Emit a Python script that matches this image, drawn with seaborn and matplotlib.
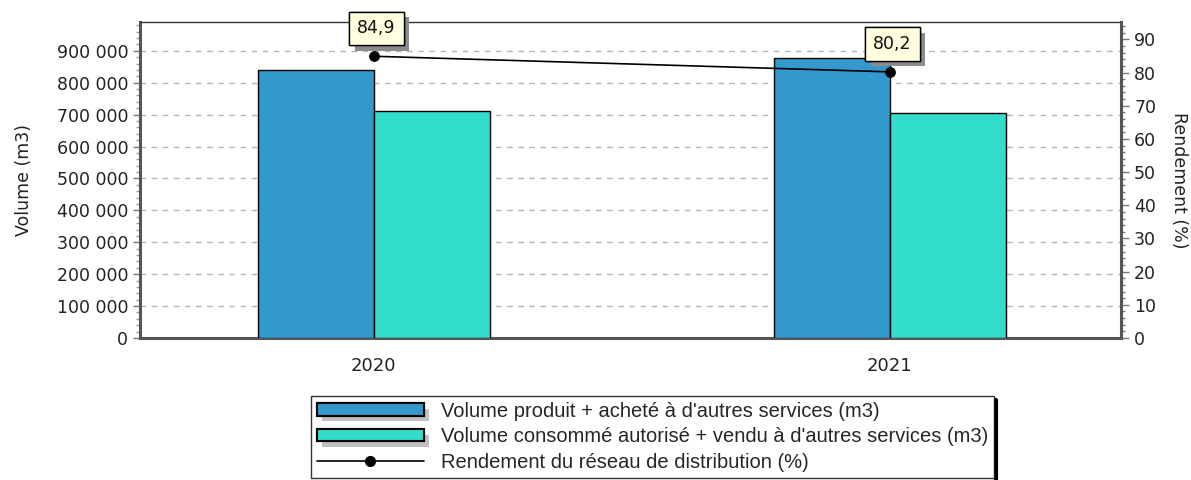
import numpy as np
import pandas as pd
import matplotlib.pyplot as plt
import matplotlib.ticker as mticker
import matplotlib.patheffects as pe
from matplotlib.patches import Patch
from matplotlib.lines import Line2D
import seaborn as sns

years = ["2020", "2021"]
vol_produit = [840000, 879000]
vol_consomme = [712000, 705000]
rendement = [84.9, 80.2]

label_prod = "Volume produit + acheté à d'autres services (m3)"
label_cons = "Volume consommé autorisé + vendu à d'autres services (m3)"
label_rend = "Rendement du réseau de distribution (%)"

col_prod = "#3399cc"
col_cons = "#33ddcc"

sns.set_style("white")
plt.rcParams["font.family"] = ["DejaVu Sans"]

df = pd.DataFrame({
    "annee": years * 2,
    "volume": vol_produit + vol_consomme,
    "serie": [label_prod] * 2 + [label_cons] * 2,
})

fig = plt.figure(figsize=(11.91, 4.8), dpi=100)
ax = fig.add_axes([0.1175, 0.2958, 0.8237, 0.6582])

sns.barplot(
    data=df, x="annee", y="volume", hue="serie",
    palette=[col_prod, col_cons], width=0.45,
    edgecolor="black", linewidth=1, saturation=1,
    ax=ax, legend=False, zorder=3,
)

ax.set_xlim(-0.453, 1.448)
ax.set_ylim(0, 990000)
ax.yaxis.set_major_locator(mticker.MultipleLocator(100000))
ax.yaxis.set_minor_locator(mticker.MultipleLocator(20000))
ax.yaxis.set_major_formatter(mticker.FuncFormatter(lambda v, p: f"{int(v):,}".replace(",", " ")))
ax.xaxis.set_minor_locator(mticker.MultipleLocator(0.25))
ax.set_xlabel("")
ax.set_ylabel("Volume (m3)", fontsize=12.5, labelpad=17, color="#222222")
ax.grid(axis="y", color="#b4b4b4", linestyle=(0, (4, 4)), linewidth=1, zorder=0)
ax.set_axisbelow(True)

ax.tick_params(axis="both", which="major", direction="out", length=5, width=1,
               color="#777777", labelsize=12.5, labelcolor="#222222")
ax.tick_params(axis="x", which="major", pad=9, labelsize=13)
ax.tick_params(axis="both", which="minor", direction="out", length=3, width=1, color="#999999")
ax.tick_params(axis="x", which="minor", length=5)

for side in ["left", "bottom"]:
    ax.spines[side].set_linewidth(2.2)
    ax.spines[side].set_color("#555555")
for side in ["top", "right"]:
    ax.spines[side].set_linewidth(1)
    ax.spines[side].set_color("#333333")

ax2 = ax.twinx()
sns.lineplot(x=np.arange(len(years)), y=rendement, ax=ax2, color="black",
             linewidth=1.2, marker="o", markersize=7, markeredgecolor="black", zorder=5)
ax2.set_ylim(0, 95.2)
ax2.yaxis.set_major_locator(mticker.MultipleLocator(10))
ax2.yaxis.set_minor_locator(mticker.MultipleLocator(2))
ax2.set_ylabel("Rendement (%)", fontsize=12.5, rotation=-90, labelpad=23, color="#222222")
ax2.tick_params(axis="y", which="major", direction="out", length=6, width=1,
                color="#777777", labelsize=12.5, labelcolor="#222222")
ax2.tick_params(axis="y", which="minor", direction="out", length=3, width=1, color="#777777")
ax2.spines["right"].set_linewidth(2.2)
ax2.spines["right"].set_color("#555555")
for side in ["top", "left", "bottom"]:
    ax2.spines[side].set_visible(False)
ax2.set_xlim(-0.453, 1.448)

shadow = [pe.withSimplePatchShadow(offset=(4, -4), shadow_rgbFace="#8c8c8c", alpha=1), pe.Normal()]
for i, r in enumerate(rendement):
    t = ax2.annotate(f"{r:.1f}".replace(".", ","), xy=(i, r), xytext=(2, 20),
                     textcoords="offset points", ha="center", va="center",
                     fontsize=12.5, color="#111111", zorder=10,
                     bbox=dict(boxstyle="square,pad=0.45", fc="#ffffe0", ec="black", lw=1))
    t.get_bbox_patch().set_path_effects(shadow)

handle_shadow = [pe.withSimplePatchShadow(offset=(4, -4), shadow_rgbFace="#c0c0c0", alpha=1), pe.Normal()]
h1 = Patch(facecolor=col_prod, edgecolor="black", linewidth=1.5)
h2 = Patch(facecolor=col_cons, edgecolor="black", linewidth=1.5)
h1.set_path_effects(handle_shadow)
h2.set_path_effects(handle_shadow)
h3 = Line2D([], [], color="black", linewidth=1.2, marker="o", markersize=7)

leg = fig.legend([h1, h2, h3], [label_prod, label_cons, label_rend],
                 loc="upper left", bbox_to_anchor=(0.261, 0.176),
                 bbox_transform=fig.transFigure, borderaxespad=0,
                 prop={"family": "Liberation Sans", "size": 14.5},
                 frameon=True, fancybox=False, edgecolor="black",
                 handlelength=5.3, handleheight=0.55, handletextpad=0.85,
                 labelspacing=0.33, borderpad=0.3)
leg.get_frame().set_linewidth(1)

fig.canvas.draw()
bb = leg.get_window_extent().transformed(fig.transFigure.inverted())
fig.add_artist(Line2D([bb.x1 + 0.002, bb.x1 + 0.002], [bb.y0 - 0.008, bb.y1 - 0.01],
                      transform=fig.transFigure, color="black", linewidth=3))

fig.savefig("out.png", dpi=100)
